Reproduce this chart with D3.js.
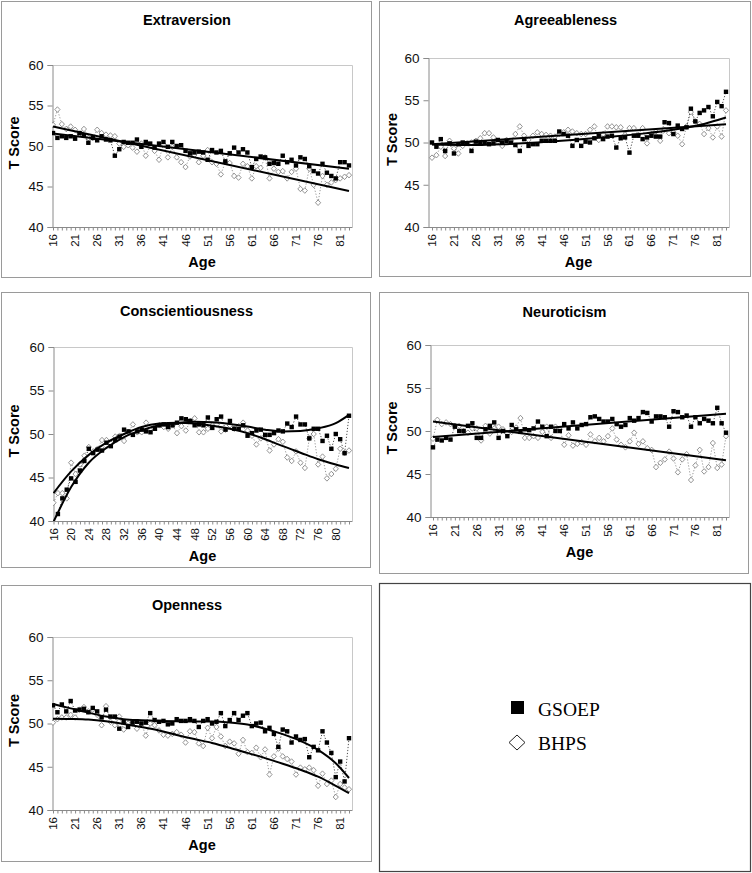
<!DOCTYPE html>
<html><head><meta charset="utf-8">
<script src="https://cdn.jsdelivr.net/npm/d3@7"></script>
<style>body{margin:0;background:#fff}svg{display:block}</style>
</head><body>
<svg id="c" width="752" height="873"></svg>
<script>
const ages = [16,17,18,19,20,21,22,23,24,25,26,27,28,29,30,31,32,33,34,35,36,37,38,39,40,41,42,43,44,45,46,47,48,49,50,51,52,53,54,55,56,57,58,59,60,61,62,63,64,65,66,67,68,69,70,71,72,73,74,75,76,77,78,79,80,81,82,83];
const yTicks = [40,45,50,55,60];
const xTicks5 = [16,21,26,31,36,41,46,51,56,61,66,71,76,81];
const xTicks4 = [16,20,24,28,32,36,40,44,48,52,56,60,64,68,72,76,80];
const seriesNames = ["GSOEP","BHPS"];

const extGSOEP = [51.6,51.0,51.2,51.0,51.2,50.9,51.6,51.3,50.4,51.0,50.7,51.2,50.8,50.7,48.8,49.6,50.5,50.4,50.4,50.8,49.9,50.5,50.3,49.8,50.3,50.5,49.9,50.5,50.0,50.1,49.4,49.1,49.2,49.3,49.2,48.3,49.5,49.2,49.4,48.1,49.1,49.8,49.2,49.6,49.2,47.4,48.4,48.7,48.6,47.8,47.9,47.8,48.8,48.0,48.3,47.6,48.6,48.4,47.5,46.9,46.6,47.8,46.7,46.3,46.0,48.0,48.0,47.6];
const extBHPS = [52.6,54.5,52.7,52.1,52.4,52.0,51.5,52.1,51.0,51.0,52.0,51.6,51.4,51.3,51.2,50.3,49.9,50.1,49.8,49.3,50.3,48.8,50.0,49.4,48.3,50.2,48.6,49.9,48.6,48.0,47.4,48.7,48.9,48.0,48.8,49.5,48.0,47.8,46.5,48.0,47.9,46.3,46.1,47.8,47.5,46.0,47.5,47.3,48.6,46.0,47.2,46.8,46.9,46.0,46.8,47.2,44.7,44.5,47.2,45.2,43.0,46.3,45.2,45.5,45.8,46.0,46.2,46.4];

const agrGSOEP = [50.0,49.5,50.4,49.0,49.9,48.7,49.8,50.0,49.9,49.0,50.1,49.9,50.0,49.8,49.9,50.3,50.0,50.2,50.0,49.7,49.0,50.4,49.6,49.8,49.8,50.2,50.2,50.2,50.2,51.3,51.0,50.8,49.6,50.3,49.6,50.1,50.0,50.5,50.8,50.4,50.7,50.8,49.4,50.5,50.6,48.8,50.8,50.8,50.4,50.6,50.8,50.7,50.7,52.4,52.3,51.0,52.0,51.6,51.8,54.0,52.5,53.5,53.8,54.2,53.1,54.8,54.3,56.0];
const agrBHPS = [48.2,48.5,49.5,48.4,50.2,49.3,48.7,49.6,49.9,50.0,50.2,50.5,51.1,51.1,50.6,50.1,49.6,50.3,50.2,51.0,51.9,50.8,50.3,50.8,51.2,51.0,50.9,50.8,50.7,51.0,51.2,51.5,51.3,51.1,51.0,51.0,51.5,51.9,50.3,51.0,51.9,51.9,51.8,51.8,50.9,51.7,51.7,50.9,51.7,49.9,51.0,51.3,50.2,51.5,51.1,51.2,50.8,49.8,51.9,53.6,52.5,52.2,51.0,51.7,50.6,51.9,50.7,53.8];

const conGSOEP = [null,40.8,42.6,43.6,44.9,44.5,45.8,46.9,48.3,47.8,48.2,48.1,49.0,48.6,49.3,49.7,50.5,50.3,49.9,50.3,50.5,50.3,50.2,50.6,51.0,51.1,50.8,51.0,51.3,51.8,51.7,51.5,51.0,51.1,51.0,51.9,50.7,51.7,52.0,50.5,51.5,50.6,50.6,51.0,49.8,50.1,50.4,50.5,49.9,49.9,50.1,50.4,50.3,51.2,50.8,52.0,51.1,51.1,49.5,50.6,50.6,49.2,49.8,48.3,50.0,49.4,47.8,52.1];
const conBHPS = [42.1,43.2,43.2,42.6,46.7,45.4,46.5,47.5,48.5,48.0,48.3,49.3,49.3,48.9,49.7,49.8,49.2,50.2,51.1,50.2,50.2,51.3,50.4,50.8,51.0,50.8,50.6,51.0,50.1,50.9,50.4,51.5,51.8,50.2,50.2,50.6,51.0,51.1,50.3,50.5,51.0,50.6,50.9,51.3,50.4,49.8,48.8,49.5,49.8,48.1,48.8,49.4,49.1,47.3,46.9,48.0,46.7,46.1,49.5,50.0,46.5,47.4,44.9,45.4,46.0,48.3,47.8,48.1];

const neuGSOEP = [48.1,49.0,48.9,49.2,49.0,50.5,50.0,50.0,50.6,50.9,49.2,49.2,50.2,50.6,51.0,49.2,50.0,49.4,50.7,50.2,49.9,50.2,50.1,50.3,51.1,50.5,49.4,50.5,50.0,50.0,50.8,50.3,51.0,50.3,50.7,50.8,51.6,51.7,51.4,51.1,51.1,51.4,50.8,50.5,50.7,51.5,51.2,51.5,52.2,52.1,51.1,51.7,51.7,51.6,50.5,52.3,52.2,51.6,51.8,50.5,51.6,50.9,51.4,51.2,50.9,52.7,50.9,49.8];
const neuBHPS = [49.1,51.3,50.8,51.0,50.8,50.6,50.6,50.0,49.8,50.3,50.3,48.9,50.6,49.7,50.3,50.5,50.2,49.7,49.9,50.4,51.5,49.2,49.2,49.4,49.2,49.9,50.5,49.2,50.5,50.2,48.4,49.5,48.3,48.5,48.7,48.4,49.6,48.8,49.2,48.8,49.4,50.3,49.0,48.4,48.1,48.8,49.8,48.5,48.8,48.0,47.8,45.8,46.3,46.7,47.6,46.8,45.2,46.7,47.3,44.3,46.0,47.8,45.3,45.8,48.6,45.7,46.1,49.4];

const opeGSOEP = [52.1,51.3,52.2,51.4,52.6,51.5,51.6,51.7,51.3,51.8,51.4,50.7,51.6,50.8,50.8,49.4,50.2,49.6,50.1,50.2,50.0,50.1,51.2,50.4,50.2,50.3,49.9,50.0,50.5,50.3,50.3,50.5,50.3,49.6,50.3,50.5,50.0,50.2,51.2,49.7,50.4,51.2,50.4,50.9,51.2,49.7,50.0,50.1,49.1,49.5,48.8,47.3,49.3,49.1,47.8,48.5,48.1,48.2,46.1,47.3,46.9,49.1,47.8,46.6,43.8,45.6,43.3,48.3];
const opeBHPS = [50.1,50.5,50.7,50.7,51.0,50.7,51.6,51.9,51.4,51.6,51.0,49.8,52.0,50.2,49.8,50.8,49.3,50.0,50.0,49.4,50.0,48.6,50.0,49.8,49.2,48.7,48.6,48.8,49.0,48.7,47.8,49.1,49.0,47.7,47.4,49.5,48.3,49.6,48.5,47.4,47.9,47.7,46.5,48.1,46.7,46.6,47.2,46.1,47.0,44.1,46.2,47.1,46.2,45.9,45.6,44.1,44.9,44.7,44.9,44.6,42.8,44.2,43.0,43.4,41.5,43.0,42.6,42.4];

// fitted trend curves: [age, T score]
const extGSOEPFit = [[16,51.55],[83,47.2]];
const extBHPSFit  = [[16,52.4],[83,44.45]];
const agrGSOEPFit = [[16,49.75],[24,49.7],[32,49.8],[40,50.0],[48,50.3],[56,50.65],[64,51.05],[72,51.6],[78,52.2],[83,52.95]];
const agrBHPSFit  = [[16,49.8],[83,52.15]];
const conGSOEPFit = [[16,39.9],[20,43.9],[24,46.7],[28,48.4],[32,49.65],[36,50.45],[40,51.0],[44,51.25],[48,51.4],[52,51.35],[56,51.15],[60,50.85],[64,50.5],[68,50.3],[72,50.35],[76,50.65],[80,51.25],[83,52.2]];
const conBHPSFit  = [[16,43.2],[20,45.7],[24,47.6],[28,49.0],[32,50.0],[36,50.8],[40,51.2],[44,51.3],[48,51.2],[52,50.95],[56,50.6],[60,50.1],[64,49.4],[68,48.6],[72,47.85],[76,47.1],[80,46.5],[83,46.1]];
const neuGSOEPFit = [[16,49.3],[83,52.0]];
const neuBHPSFit  = [[16,51.1],[83,46.6]];
const opeGSOEPFit = [[16,52.25],[20,51.75],[24,51.25],[28,50.8],[32,50.5],[36,50.38],[40,50.3],[44,50.25],[48,50.22],[52,50.22],[56,50.12],[60,49.88],[64,49.4],[68,48.77],[72,48.0],[76,46.95],[80,45.4],[83,43.7]];
const opeBHPSFit  = [[16,50.55],[20,50.52],[24,50.45],[28,50.25],[32,49.95],[36,49.6],[40,49.2],[44,48.68],[48,48.2],[52,47.75],[56,47.2],[60,46.6],[64,46.0],[68,45.35],[72,44.65],[76,43.85],[80,42.8],[83,41.95]];

const panels = [
  {title:"Extraversion", g:extGSOEP, b:extBHPS, fits:[extGSOEPFit,extBHPSFit], xt:xTicks5,
   frame:[1,1,370,276], plot:[52,65,352,227], pad:1, titleY:25},
  {title:"Agreeableness", g:agrGSOEP, b:agrBHPS, fits:[agrGSOEPFit,agrBHPSFit], xt:xTicks5,
   frame:[379,1,371,275], plot:[428,58,729,227], pad:4, titleY:25},
  {title:"Conscientiousness", g:conGSOEP, b:conBHPS, fits:[conGSOEPFit,conBHPSFit], xt:xTicks4,
   frame:[1,292,369,275], plot:[53,347,352,521], pad:0.5, titleY:316},
  {title:"Neuroticism", g:neuGSOEP, b:neuBHPS, fits:[neuGSOEPFit,neuBHPSFit], xt:xTicks5,
   frame:[379,292,369,281], plot:[430,345,729,517], pad:3, titleY:317},
  {title:"Openness", g:opeGSOEP, b:opeBHPS, fits:[opeGSOEPFit,opeBHPSFit], xt:xTicks5,
   frame:[1,585,370,276], plot:[52,637,352,810], pad:1, titleY:610}
];

const svg = d3.select("#c");
const SANS = "'Liberation Sans', Arial, Helvetica, sans-serif";

panels.forEach((P,pi)=>{
  const [fx,fy,fw,fh] = P.frame;
  svg.append("rect").attr("x",fx+0.5).attr("y",fy+0.5).attr("width",fw).attr("height",fh)
    .attr("fill","#fff").attr("stroke","#9a9a9a").attr("stroke-width",1);
  const [L,T,R,Bt] = P.plot;
  const x = d3.scaleLinear().domain([16,83]).range([L+P.pad, R-3]);
  const y = d3.scaleLinear().domain([40,60]).range([Bt,T]);
  const g = svg.append("g");

  g.append("path").attr("d",`M${L},${T+0.5}H${R+0.5}V${Bt}`).attr("fill","none").attr("stroke","#c8c8c8");

  const ya = g.append("g").attr("transform",`translate(${L+0.5},0)`)
    .call(d3.axisLeft(y).tickValues(yTicks).tickSize(5).tickPadding(4).tickFormat(d3.format("d")));
  ya.select(".domain").attr("stroke","#8a8a8a");
  ya.selectAll(".tick line").attr("stroke","#8a8a8a");
  ya.selectAll("text").attr("font-family",SANS).attr("font-size",13.5).attr("fill","#111");

  const xa = g.append("g").attr("transform",`translate(0,${Bt+0.5})`)
    .call(d3.axisBottom(x).tickValues(ages).tickSize(3).tickFormat(""));
  xa.select(".domain").attr("stroke","#8a8a8a").attr("d",`M${L},0H${R+0.5}`);
  xa.selectAll(".tick line").attr("stroke","#8a8a8a");
  g.append("g").selectAll("text").data(P.xt).join("text")
    .attr("transform",d=>`translate(${x(d)+4},${Bt+7}) rotate(-90)`)
    .attr("text-anchor","end").attr("font-family",SANS).attr("font-size",11.5).attr("fill","#111")
    .text(d=>d);

  svg.append("text").attr("x",fx+fw/2+1).attr("y",P.titleY).attr("text-anchor","middle")
    .attr("font-family",SANS).attr("font-weight","bold").attr("font-size",14.5).text(P.title);
  svg.append("text").attr("x",(L+R)/2).attr("y",Bt+40).attr("text-anchor","middle")
    .attr("font-family",SANS).attr("font-weight","bold").attr("font-size",14.5).text("Age");
  svg.append("text").attr("transform",`translate(${fx+18},${(T+Bt)/2-3}) rotate(-90)`).attr("text-anchor","middle")
    .attr("font-family",SANS).attr("font-weight","bold").attr("font-size",14.5).text("T Score");

  const cid = "clip"+pi;
  svg.append("clipPath").attr("id",cid).append("rect").attr("x",L).attr("y",T-3).attr("width",R-L+3).attr("height",Bt-T+3);
  const pg = svg.append("g").attr("clip-path",`url(#${cid})`);

  const pts = arr => ages.map((a,i)=>({a,v:arr[i]})).filter(d=>d.v!=null);
  const line = d3.line().x(d=>x(d.a)).y(d=>y(d.v));

  pg.append("path").attr("d",line(pts(P.b))).attr("fill","none").attr("stroke","#8c8c8c")
    .attr("stroke-width",0.9).attr("stroke-dasharray","1.2,1.8");
  pg.append("path").attr("d",line(pts(P.g))).attr("fill","none").attr("stroke","#222")
    .attr("stroke-width",0.8).attr("stroke-dasharray","1.2,1.8");

  pg.append("g").selectAll("path").data(pts(P.b)).join("path")
    .attr("d",d=>{const cx=x(d.a), cy=y(d.v); return `M${cx},${cy-2.8}L${cx+2.6},${cy}L${cx},${cy+2.8}L${cx-2.6},${cy}Z`;})
    .attr("fill","#fff").attr("stroke","#7a7a7a").attr("stroke-width",0.8);
  pg.append("g").selectAll("rect").data(pts(P.g)).join("rect")
    .attr("x",d=>x(d.a)-2.2).attr("y",d=>y(d.v)-2.2).attr("width",4.4).attr("height",4.4).attr("fill","#000");

  const fitLine = d3.line().x(d=>x(d[0])).y(d=>y(d[1])).curve(d3.curveMonotoneX);
  P.fits.forEach(f=>{
    pg.append("path").attr("d",fitLine(f)).attr("fill","none").attr("stroke","#000").attr("stroke-width",2);
  });
});

svg.append("rect").attr("x",379.5).attr("y",583.5).attr("width",371).attr("height",288)
  .attr("fill","#fff").attr("stroke","#444").attr("stroke-width",1.2);
const lg = svg.append("g");
lg.append("rect").attr("x",511).attr("y",701).attr("width",13).attr("height",13).attr("fill","#000");
lg.append("path").attr("d","M517,735L525,742.5L517,750L509,742.5Z").attr("fill","#fff").attr("stroke","#222").attr("stroke-width",1);
lg.selectAll("text").data(seriesNames).join("text")
  .attr("x",538).attr("y",(d,i)=>716+i*34)
  .attr("font-family","'Liberation Serif','Times New Roman',serif").attr("font-size",19.5).attr("fill","#000")
  .text(d=>d);
</script>
</body></html>
